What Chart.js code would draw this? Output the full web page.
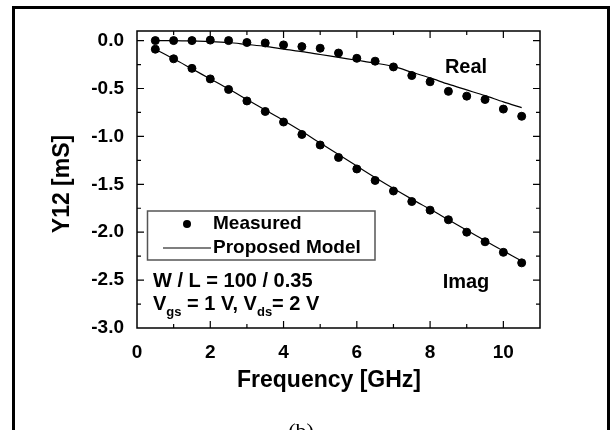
<!DOCTYPE html>
<html>
<head>
<meta charset="utf-8">
<script src="https://cdn.jsdelivr.net/npm/chart.js@4/dist/chart.umd.min.js"></script>
<style>
  html, body { margin: 0; padding: 0; background: #fff; }
  canvas { display: block; }
</style>
</head>
<body>
<canvas id="myChart" width="610" height="430"></canvas>
<script>
// frequency points [GHz]
var freq = [0.5, 1, 1.5, 2, 2.5, 3, 3.5, 4, 4.5, 5, 5.5, 6, 6.5, 7, 7.5, 8, 8.5, 9, 9.5, 10, 10.5];

// Y12 [mS]
var realMeasured = [0.0, 0.0, 0.0, 0.005, 0.0, -0.02, -0.025, -0.045, -0.063, -0.08, -0.13, -0.185, -0.215, -0.275, -0.365, -0.43, -0.53, -0.58, -0.615, -0.715, -0.79];
var realModel = [0.0, 0.0, -0.005, -0.01, -0.02, -0.04, -0.06, -0.09, -0.115, -0.145, -0.175, -0.205, -0.235, -0.27, -0.33, -0.39, -0.455, -0.515, -0.575, -0.64, -0.70];
var imagMeasured = [-0.09, -0.19, -0.29, -0.40, -0.51, -0.63, -0.74, -0.85, -0.98, -1.09, -1.22, -1.34, -1.46, -1.57, -1.68, -1.77, -1.87, -2.00, -2.10, -2.21, -2.32];
var imagModel = [-0.09, -0.19, -0.295, -0.40, -0.505, -0.615, -0.725, -0.835, -0.95, -1.07, -1.19, -1.31, -1.43, -1.545, -1.655, -1.76, -1.87, -1.98, -2.09, -2.195, -2.30];

// axis ticks
var xTicks = [0, 2, 4, 6, 8, 10];
var yTicks = [-3.0, -2.5, -2.0, -1.5, -1.0, -0.5, 0.0];

var FONT = "'Liberation Sans', Arial, sans-serif";

function pts(ys) {
    return freq.map(function (f, i) { return { x: f, y: ys[i] }; });
}

// ticks, frame, legend and labels drawn on top
var decor = {
    id: 'decor',
    beforeDraw: function (chart) {
        var c = chart.ctx;
        c.save();
        c.fillStyle = '#fff';
        c.fillRect(0, 0, chart.width, chart.height);
        c.restore();
    },
    afterDraw: function (chart) {
        var c = chart.ctx, a = chart.chartArea;
        var xs = chart.scales.x, ys = chart.scales.y;
        c.save();

        // outer frame of the figure
        c.strokeStyle = '#000';
        c.lineWidth = 3;
        c.strokeRect(13.5, 7.5, 595, 460);

        // plot box
        c.lineWidth = 1.5;
        c.strokeRect(a.left, a.top, a.right - a.left, a.bottom - a.top);

        // inward ticks
        c.lineWidth = 1.2;
        c.beginPath();
        for (var v = 1; v <= 10; v++) {
            var px = xs.getPixelForValue(v);
            var len = v % 2 === 0 ? 7 : 4;
            c.moveTo(px, a.bottom); c.lineTo(px, a.bottom - len);
            c.moveTo(px, a.top); c.lineTo(px, a.top + len);
        }
        for (var k = -11; k <= 0; k++) {
            var val = k * 0.25;
            var py = ys.getPixelForValue(val);
            var l2 = k % 2 === 0 ? 7 : 4;
            c.moveTo(a.left, py); c.lineTo(a.left + l2, py);
            c.moveTo(a.right, py); c.lineTo(a.right - l2, py);
        }
        c.stroke();

        // axis titles
        c.fillStyle = '#000';
        c.font = 'bold 23px ' + FONT;
        c.textAlign = 'center';
        c.textBaseline = 'middle';
        c.fillText('Frequency [GHz]', 329, 381);
        c.save();
        c.translate(63, 184);
        c.rotate(-Math.PI / 2);
        c.fillText('Y12 [mS]', 0, 0);
        c.restore();

        // legend
        c.strokeStyle = '#555';
        c.lineWidth = 1.5;
        c.strokeRect(147.5, 211, 227.5, 49);
        c.beginPath();
        c.arc(187, 224, 4, 0, Math.PI * 2);
        c.fill();
        c.strokeStyle = '#000';
        c.lineWidth = 1.2;
        c.beginPath();
        c.moveTo(163, 248); c.lineTo(211, 248);
        c.stroke();
        c.font = 'bold 19px ' + FONT;
        c.textAlign = 'left';
        c.fillText('Measured', 213, 224);
        c.fillText('Proposed Model', 213, 248);

        // curve labels
        c.font = 'bold 20px ' + FONT;
        c.textAlign = 'center';
        c.fillText('Real', 466, 67);
        c.fillText('Imag', 466, 282);

        // device conditions
        c.textAlign = 'left';
        c.fillText('W / L = 100 / 0.35', 153, 281);
        var x0 = 153, yb = 304;
        var parts = [['V', 0], ['gs', 1], [' = 1 V, V', 0], ['ds', 1], ['= 2 V', 0]];
        parts.forEach(function (p) {
            c.font = p[1] ? 'bold 13px ' + FONT : 'bold 20px ' + FONT;
            c.fillText(p[0], x0, p[1] ? yb + 8 : yb);
            x0 += c.measureText(p[0]).width;
        });

        // panel caption, cut by the bottom edge
        c.font = '22px "Liberation Serif", "Times New Roman", serif';
        c.textAlign = 'center';
        c.textBaseline = 'top';
        c.fillText('(b)', 301, 421);

        c.restore();
    }
};

var ctx = document.getElementById('myChart').getContext('2d');
var chart = new Chart(ctx, {
    type: 'scatter',
    data: {
        datasets: [{
            label: 'Measured',
            data: pts(realMeasured),
            backgroundColor: '#000',
            borderColor: '#000',
            pointRadius: 4,
            showLine: false
        }, {
            label: 'Measured',
            data: pts(imagMeasured),
            backgroundColor: '#000',
            borderColor: '#000',
            pointRadius: 4,
            showLine: false
        }, {
            label: 'Proposed Model',
            data: pts(realModel),
            borderColor: '#000',
            borderWidth: 1.2,
            pointRadius: 0,
            showLine: true,
            tension: 0.3
        }, {
            label: 'Proposed Model',
            data: pts(imagModel),
            borderColor: '#000',
            borderWidth: 1.2,
            pointRadius: 0,
            showLine: true,
            tension: 0.3
        }]
    },
    options: {
        responsive: false,
        animation: false,
        layout: { padding: { left: 0, top: 31, right: 70, bottom: 0 } },
        plugins: { legend: { display: false }, tooltip: { enabled: false } },
        scales: {
            x: {
                type: 'linear',
                min: 0,
                max: 11,
                grid: { display: false },
                border: { display: false },
                afterBuildTicks: function (s) { s.ticks = xTicks.map(function (v) { return { value: v }; }); },
                afterFit: function (s) { s.height = 102; },
                ticks: {
                    color: '#000',
                    padding: 5,
                    maxRotation: 0,
                    font: { family: FONT, size: 19, weight: 'bold' },
                    callback: function (v) { return String(v); }
                }
            },
            y: {
                type: 'linear',
                min: -3,
                max: 0.1,
                grid: { display: false },
                border: { display: false },
                afterBuildTicks: function (s) { s.ticks = yTicks.map(function (v) { return { value: v }; }); },
                afterFit: function (s) { s.width = 137; },
                ticks: {
                    color: '#000',
                    padding: 5,
                    font: { family: FONT, size: 19, weight: 'bold' },
                    callback: function (v) { return Number(v).toFixed(1); }
                }
            }
        }
    },
    plugins: [decor]
});
</script>
</body>
</html>
